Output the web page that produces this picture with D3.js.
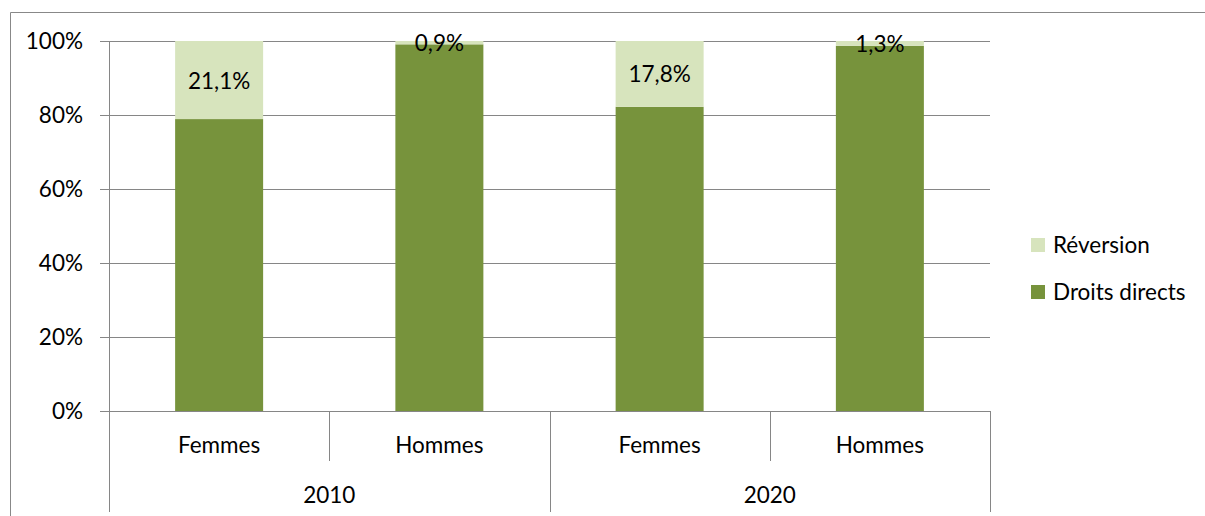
<!DOCTYPE html>
<html>
<head>
<meta charset="utf-8">
<script src="https://cdn.jsdelivr.net/npm/d3@7"></script>
<style>
  html, body { margin: 0; padding: 0; background: #fff; }
  svg text { font-family: Lato, "Open Sans", "Liberation Sans", sans-serif; fill: #000; }
</style>
</head>
<body>
<svg id="chart" width="1205" height="516"></svg>
<script>
// Share of pensions by type, by sex and year
const years = ["2010", "2020"];
const sexes = ["Femmes", "Hommes"];
const directs = [78.9, 99.1, 82.2, 98.7];
const reversion = [21.1, 0.9, 17.8, 1.3];
const reversionLabels = ["21,1%", "0,9%", "17,8%", "1,3%"];
const yTicks = [0, 20, 40, 60, 80, 100];
const seriesNames = ["Réversion", "Droits directs"];
const colors = { direct: "#77933C", reversion: "#D7E4BD", grid: "#868686" };

const fontSize = 22.5;
const svg = d3.select("#chart");
const plotLeft = 109, plotRight = 990, plotTop = 41, plotBottom = 411;

// Outer chart frame
svg.append("path")
  .attr("d", `M10.5,520 V12.5 H1210`)
  .attr("fill", "none").attr("stroke", "#888").attr("stroke-width", 1);

const cats = [];
years.forEach(y => sexes.forEach(s => cats.push(y + "|" + s)));

const x = d3.scaleBand().domain(cats).range([plotLeft, plotRight]).paddingInner(0).paddingOuter(0);
const y = d3.scaleLinear().domain([0, 100]).range([plotBottom, plotTop]);

// Gridlines and ticks
svg.append("g").selectAll("line").data(yTicks.filter(t => t > 0)).join("line")
  .attr("x1", 100).attr("x2", plotRight)
  .attr("y1", d => Math.round(y(d)) + 0.5).attr("y2", d => Math.round(y(d)) + 0.5)
  .attr("stroke", colors.grid).attr("stroke-width", 1);

// Y tick labels
svg.append("g").selectAll("text").data(yTicks).join("text")
  .attr("x", 83).attr("y", d => y(d) + 8)
  .attr("text-anchor", "end")
  .attr("font-size", fontSize)
  .text(d => d + "%");

// Bars
const barW = 88;
const bars = svg.append("g");
cats.forEach((c, i) => {
  const cx = x(c) + x.bandwidth() / 2;
  bars.append("rect")
    .attr("x", cx - barW / 2).attr("width", barW)
    .attr("y", y(directs[i])).attr("height", y(0) - y(directs[i]))
    .attr("fill", colors.direct);
  bars.append("rect")
    .attr("x", cx - barW / 2).attr("width", barW)
    .attr("y", y(directs[i] + reversion[i])).attr("height", y(directs[i]) - y(directs[i] + reversion[i]))
    .attr("fill", colors.reversion);
  bars.append("text")
    .attr("x", cx).attr("y", y(directs[i] + reversion[i] / 2) + 8.5)
    .attr("text-anchor", "middle")
    .attr("font-size", fontSize)
    .text(reversionLabels[i]);
});

// Axis lines
svg.append("line").attr("x1", 100).attr("x2", plotRight)
  .attr("y1", plotBottom + 0.5).attr("y2", plotBottom + 0.5)
  .attr("stroke", colors.grid);
svg.append("line").attr("x1", plotLeft + 0.5).attr("x2", plotLeft + 0.5)
  .attr("y1", plotTop).attr("y2", plotBottom)
  .attr("stroke", colors.grid);

// Multi-level category axis
const catSep = svg.append("g");
cats.forEach((c, i) => {
  const x0 = x(c);
  const isGroupStart = i % sexes.length === 0;
  catSep.append("line")
    .attr("x1", Math.round(x0) + 0.5).attr("x2", Math.round(x0) + 0.5)
    .attr("y1", plotBottom).attr("y2", isGroupStart ? 512 : 461)
    .attr("stroke", colors.grid);
  svg.append("text")
    .attr("x", x0 + x.bandwidth() / 2).attr("y", 453)
    .attr("text-anchor", "middle").attr("font-size", fontSize)
    .text(c.split("|")[1]);
});
catSep.append("line")
  .attr("x1", plotRight + 0.5).attr("x2", plotRight + 0.5)
  .attr("y1", plotBottom).attr("y2", 512)
  .attr("stroke", colors.grid);
years.forEach(yr => {
  const x0 = x(yr + "|" + sexes[0]);
  const x1 = x(yr + "|" + sexes[sexes.length - 1]) + x.bandwidth();
  svg.append("text")
    .attr("x", (x0 + x1) / 2).attr("y", 503)
    .attr("text-anchor", "middle").attr("font-size", fontSize)
    .text(yr);
});

// Legend
const legend = svg.append("g");
const legendColors = [colors.reversion, colors.direct];
seriesNames.forEach((n, i) => {
  const cy = 245 + i * 47;
  legend.append("rect").attr("x", 1031).attr("y", cy - 7).attr("width", 14).attr("height", 14)
    .attr("fill", legendColors[i]);
  legend.append("text").attr("x", 1053).attr("y", cy + 8)
    .attr("font-size", fontSize)
    .text(n);
});
</script>
</body>
</html>
